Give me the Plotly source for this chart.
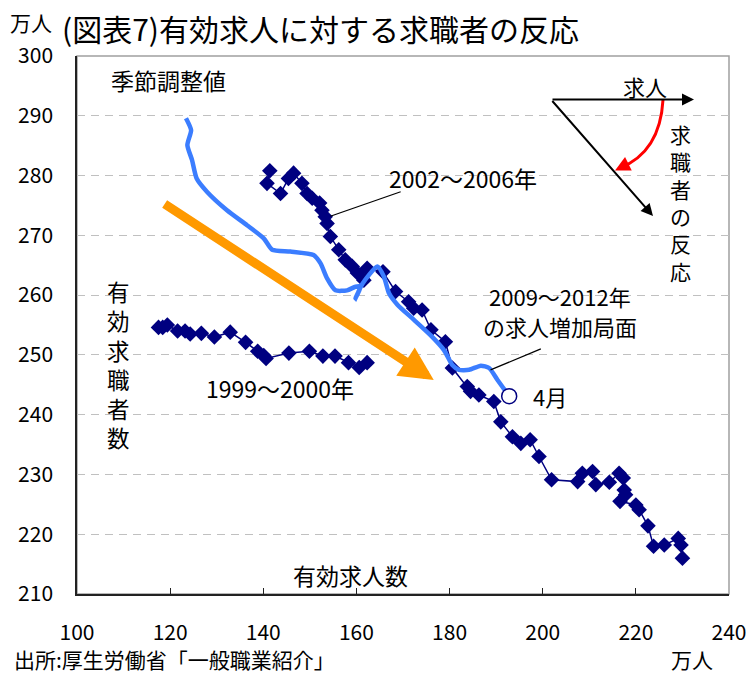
import plotly.graph_objects as go

# ---- data (万人) ----
s1999_offers = [117.5, 118.4, 119.4, 121.6, 123.2, 124.3, 126.7, 129.5, 132.9, 136.2,
                138.8, 140.1, 140.6, 145.5, 149.9, 152.8, 155.4, 158.3, 160.6, 162.3]
s1999_seekers = [254.6, 254.6, 255.0, 254.0, 254.0, 253.5, 253.6, 253.0, 253.8, 252.1,
                 250.6, 249.9, 249.4, 250.3, 250.6, 249.8, 249.8, 248.7, 247.9, 248.7]

s2002_offers = [141.4, 140.8, 143.7, 145.4, 146.5, 148.3, 149.4, 150.5, 152.1, 152.6,
                153.3, 153.7, 154.4, 156.2, 157.6, 159.1, 160.2, 161.6, 162.3, 165.7,
                168.4, 171.2, 172.3, 174.1, 176.0, 179.1, 180.6, 183.8, 184.5, 186.3,
                189.5, 191.0, 193.5, 195.3, 197.3, 199.2, 201.9, 207.5, 208.5, 210.7,
                211.4, 214.3, 216.4, 217.3, 217.5, 217.8, 216.6, 220.0, 220.7, 222.6,
                223.8, 226.1, 229.1, 229.7, 230.0]
s2002_seekers = [280.8, 278.7, 277.0, 279.5, 280.4, 278.7, 277.0, 276.2, 275.4, 274.2,
                 273.1, 272.0, 269.8, 267.6, 265.9, 264.8, 263.7, 262.5, 264.5, 263.9,
                 260.6, 258.9, 257.8, 257.5, 254.2, 252.2, 247.8, 244.7, 243.9, 243.3,
                 242.2, 238.8, 236.3, 235.2, 235.8, 233.0, 229.1, 228.8, 230.2, 230.5,
                 228.3, 228.7, 230.2, 229.4, 227.4, 226.6, 225.5, 224.9, 224.1, 221.4,
                 218.0, 218.2, 219.3, 218.2, 216.0]

s2009_offers = [123.4, 124.5, 123.7, 124.7, 125.7, 127.9, 132.2, 136.5, 140.1, 141.9,
                145.8, 150.8, 152.3, 153.7, 155.5, 158.0, 159.8, 160.9, 159.8, 160.4,
                161.3, 164.5, 165.9, 167.0, 168.8, 172.3, 175.9, 178.8, 180.6, 182.0,
                184.2, 186.7, 188.5, 190.3, 192.8]
s2009_seekers = [289.6, 287.6, 285.1, 282.6, 279.5, 277.3, 274.2, 271.7, 269.5, 267.6,
                 267.3, 266.7, 265.3, 262.8, 260.8, 260.8, 261.4, 261.4, 259.5, 260.5,
                 261.9, 264.8, 263.1, 260.3, 258.4, 255.9, 253.3, 250.8, 248.3, 247.5,
                 247.5, 248.2, 247.8, 245.8, 243.1]

x_ticks = [100, 120, 140, 160, 180, 200, 220, 240]
y_ticks = [210, 220, 230, 240, 250, 260, 270, 280, 290, 300]

NAVY = "#000080"
BLUE = "#3B7DFF"
ORANGE = "#FF9900"
FONT = "Noto Sans CJK JP"

# pixel -> domain helpers for decorations (plot area: x 77..729, y 56..594)
def px(x):
    return (x - 77) / 652.0

def py(y):
    return (594 - y) / 538.0

fig = go.Figure()

fig.add_trace(go.Scatter(x=s1999_offers, y=s1999_seekers, mode="lines+markers",
                         line=dict(color=NAVY, width=1.5),
                         marker=dict(symbol="diamond", size=12, color=NAVY),
                         showlegend=False))
fig.add_trace(go.Scatter(x=s2002_offers, y=s2002_seekers, mode="lines+markers",
                         line=dict(color=NAVY, width=1.5),
                         marker=dict(symbol="diamond", size=12, color=NAVY),
                         showlegend=False))
fig.add_trace(go.Scatter(x=s2009_offers, y=s2009_seekers, mode="lines",
                         line=dict(color=BLUE, width=4.5, shape="spline", smoothing=0.6),
                         showlegend=False))
fig.add_trace(go.Scatter(x=[s2009_offers[-1]], y=[s2009_seekers[-1]], mode="markers",
                         marker=dict(symbol="circle", size=15, color="white",
                                     line=dict(color=NAVY, width=1.5)),
                         showlegend=False))

ann = []
# orange trend arrow
ann.append(dict(x=176.6, y=245.8, ax=118.5, ay=275.4, xref="x", yref="y",
                axref="x", ayref="y", text="", showarrow=True, arrowhead=2,
                arrowsize=0.75, arrowwidth=9, arrowcolor=ORANGE))

def txt(x, y, s, size=21, xanchor="center", yanchor="middle"):
    ann.append(dict(x=x, y=y, xref="paper", yref="paper", text=s, showarrow=False,
                    xanchor=xanchor, yanchor=yanchor,
                    font=dict(family=FONT, size=size, color="black")))

txt(px(60), py(28), "(図表7)有効求人に対する求職者の反応", size=30, xanchor="left")
txt(px(31), py(22), "万人", size=21)
txt(px(168), py(80), "季節調整値", size=23)
txt(px(350), py(575), "有効求人数", size=23)
txt(px(118), py(364), "有<br>効<br>求<br>職<br>者<br>数", size=22.5)
txt(px(280), py(388), "1999～2000年", size=23)
txt(px(463), py(178), "2002～2006年", size=23)
txt(px(560), py(296), "2009～2012年", size=22)
txt(px(560), py(326), "の求人増加局面", size=22)
txt(px(550), py(396), "4月", size=22)
txt(px(12), py(659), "出所:厚生労働省「一般職業紹介」", size=21, xanchor="left")
txt(px(692), py(659), "万人", size=21)
txt(px(645), py(86), "求人", size=22)
txt(px(680), py(202), "求<br>職<br>者<br>の<br>反<br>応", size=21)

def arrow(x0, y0, x1, y1, color, width, size):
    ann.append(dict(x=px(x1), y=py(y1), ax=px(x0), ay=py(y0),
                    xref="x domain", yref="y domain", axref="x domain", ayref="y domain",
                    text="", showarrow=True, arrowhead=2, arrowsize=size,
                    arrowwidth=width, arrowcolor=color))

# black diagram arrows
arrow(551, 99.5, 694, 99.5, "black", 2, 1.2)
arrow(551, 99.5, 653, 216, "black", 2, 1.2)
# red arrowhead
arrow(628, 164, 615, 170.5, "#FF0000", 3, 1.0)

shapes = []
# red curved arrow body
shapes.append(dict(type="path", xref="paper", yref="paper",
                   path="M %f,%f Q %f,%f %f,%f" % (px(663), py(100), px(660), py(152),
                                                   px(620), py(168)),
                   line=dict(color="#FF0000", width=3)))
# leader lines
shapes.append(dict(type="line", xref="x", yref="y", x0=154.4, y0=273.2, x1=169.5, y1=277.3,
                   line=dict(color="black", width=1.2)))
shapes.append(dict(type="line", xref="x", yref="y", x0=188.8, y0=247.5, x1=199.6, y1=251.0,
                   line=dict(color="black", width=1.2)))
# plot-area border (top/right grey)
shapes.append(dict(type="rect", xref="paper", yref="paper", x0=0, y0=0, x1=1, y1=1,
                   line=dict(color="#A0A0A0", width=1.5), layer="below"))

fig.update_layout(
    width=746, height=673,
    margin=dict(l=77, r=17, t=56, b=79, autoexpand=False),
    paper_bgcolor="white", plot_bgcolor="white",
    font=dict(family=FONT, size=20, color="black"),
    annotations=ann, shapes=shapes,
    xaxis=dict(range=[100, 240], tickvals=x_ticks, ticktext=[str(v) for v in x_ticks],
               showgrid=False, zeroline=False, showline=True, linecolor="#222222",
               linewidth=1.5, ticks="inside", ticklen=6, tickcolor="#222222",
               ticklabelstandoff=19, ticklabeloverflow="allow",
               tickfont=dict(size=21), automargin=False),
    yaxis=dict(range=[210, 300], tickvals=y_ticks, ticktext=[str(v) for v in y_ticks],
               showgrid=True, gridcolor="#C0C0C0", griddash="8px,6px", gridwidth=1,
               zeroline=False, showline=True, linecolor="#222222", linewidth=1.5,
               ticks="", ticklabelstandoff=18, tickfont=dict(size=21), automargin=False),
)

fig.write_html("out.html", config={"displayModeBar": False},
               post_script="document.body.style.margin='0px';"
                           "document.body.style.overflow='hidden';")
